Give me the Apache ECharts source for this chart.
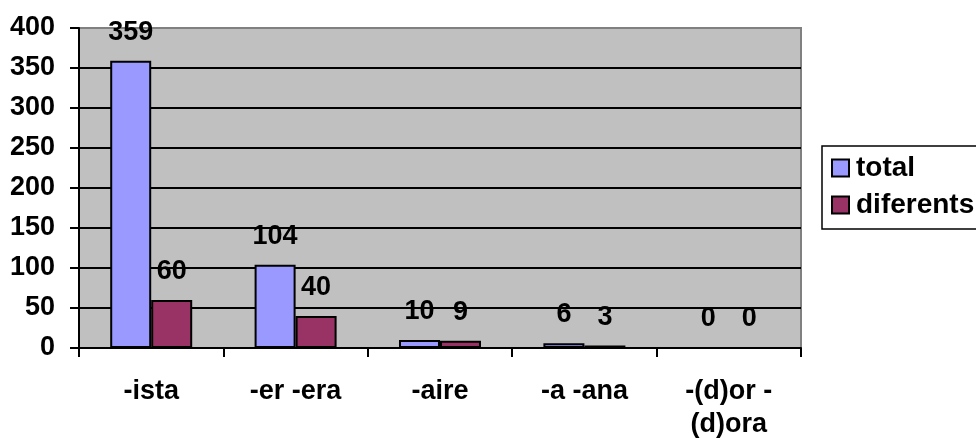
<!DOCTYPE html>
<html><head><meta charset="utf-8">
<script src="https://cdn.jsdelivr.net/npm/echarts@6/dist/echarts.min.js"></script>
<style>html,body{margin:0;padding:0;background:#fff;}#c{width:976px;height:438px;}</style>
</head><body><div id="c"></div>
<script>
const categories = ['-ista', '-er -era', '-aire', '-a -ana', '-(d)or -\n(d)ora'];
const totalValues = [359, 104, 10, 6, 0];
const diferentsValues = [60, 40, 9, 3, 0];
const seriesNames = ['total', 'diferents'];

const font = 'Arial, "Liberation Sans", sans-serif';
const fs = 27;
const gridColors = ['#000','#000','#000','#000','#000','#000','#000','#000','#808080'];
const labelStyle = {show: true, position: 'top', distance: 15, color: '#000', fontFamily: font, fontWeight: 'bold', fontSize: fs};
const chart = echarts.init(document.getElementById('c'), null, {renderer: 'canvas'});
chart.setOption({
  animation: false,
  backgroundColor: '#fff',
  grid: {left: 79, top: 28, right: 175, bottom: 90, containLabel: false, outerBoundsMode: 'none',
         show: true, backgroundColor: '#C0C0C0', borderColor: '#808080', borderWidth: 2},
  legend: {
    orient: 'vertical', left: 822, top: 146,
    data: seriesNames,
    icon: 'rect', itemWidth: 17, itemHeight: 17, itemGap: 7,
    borderColor: '#000', borderWidth: 1.5, padding: [7, 50, 9, 9],
    itemStyle: {borderColor: '#000', borderWidth: 2},
    textStyle: {fontFamily: font, fontWeight: 'bold', fontSize: 28, color: '#000', lineHeight: 30, padding: [0, 0, 0, 2]}
  },
  xAxis: {
    type: 'category', data: categories,
    axisLine: {lineStyle: {color: '#000', width: 2}},
    axisTick: {show: true, length: 9, lineStyle: {color: '#000', width: 2}},
    axisLabel: {color: '#000', fontFamily: font, fontWeight: 'bold', fontSize: fs, margin: 27, lineHeight: 33, interval: 0}
  },
  yAxis: {
    type: 'value', min: 0, max: 400, interval: 50,
    axisLine: {show: true, lineStyle: {color: '#000', width: 2}},
    axisTick: {show: true, length: 9, lineStyle: {color: '#000', width: 2}},
    axisLabel: {color: '#000', fontFamily: font, fontWeight: 'bold', fontSize: fs, margin: 24},
    splitLine: {show: true, lineStyle: {color: gridColors, width: 2}}
  },
  series: [
    {name: seriesNames[0], type: 'bar', data: totalValues, barWidth: 41, barGap: '0%',
     itemStyle: {color: '#9999FF', borderColor: '#000', borderWidth: 2}, label: labelStyle},
    {name: seriesNames[1], type: 'bar', data: diferentsValues, barWidth: 41, barGap: '0%',
     itemStyle: {color: '#993366', borderColor: '#000', borderWidth: 2}, label: labelStyle}
  ]
});
</script></body></html>
